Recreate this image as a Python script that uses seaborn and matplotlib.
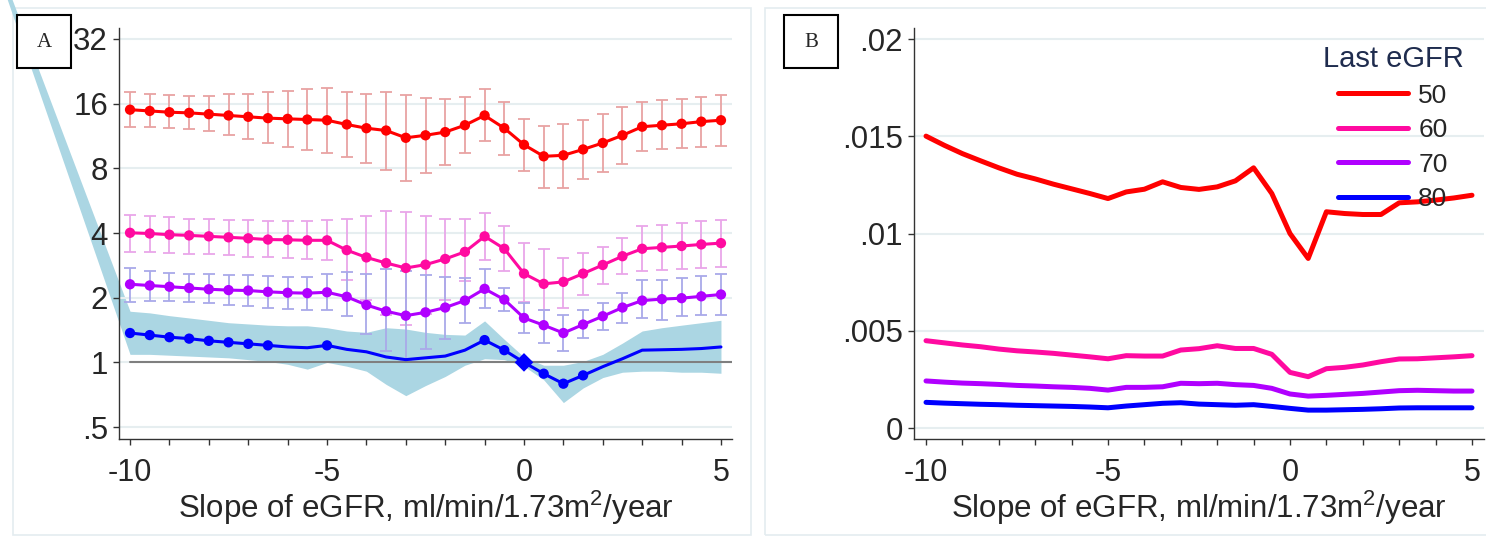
import numpy as np
import pandas as pd
import matplotlib
matplotlib.use("Agg")
import matplotlib.pyplot as plt
import seaborn as sns
from matplotlib.lines import Line2D
from matplotlib.patches import Rectangle
from matplotlib.ticker import FixedLocator, MultipleLocator, NullLocator

# slopes of eGFR (x axis, both panels)
slope = [-10, -9.5, -9, -8.5, -8, -7.5, -7, -6.5, -6, -5.5, -5, -4.5, -4, -3.5, -3,
         -2.5, -2, -1.5, -1, -0.5, 0, 0.5, 1, 1.5, 2, 2.5, 3, 3.5, 4, 4.5, 5]
egfr_levels = ["50", "60", "70", "80"]

# Panel A: hazard ratio (log2 axis) with 95% CI
hr50 = [15.0, 14.8, 14.6, 14.5, 14.3, 14.1, 13.9, 13.7, 13.6, 13.5, 13.4, 12.8, 12.3, 12.0, 11.1,
        11.4, 11.8, 12.7, 14.1, 12.3, 10.3, 9.1, 9.2, 9.8, 10.5, 11.4, 12.5, 12.7, 12.9, 13.2, 13.4]
hr50_hi = [18.1, 17.8, 17.6, 17.4, 17.4, 17.7, 17.8, 18.1, 18.4, 18.7, 18.9, 18.1, 17.7, 18.2, 17.5,
           17.0, 16.9, 17.2, 18.7, 16.3, 13.6, 12.6, 12.9, 13.5, 14.4, 15.4, 16.3, 16.6, 16.9, 17.2, 17.5]
hr50_lo = [12.4, 12.4, 12.3, 12.2, 11.9, 11.4, 10.9, 10.5, 10.1, 9.7, 9.4, 9.0, 8.5, 7.9, 7.0,
           7.6, 8.3, 9.4, 10.7, 9.2, 7.8, 6.5, 6.5, 7.1, 7.7, 8.4, 9.6, 9.8, 9.9, 10.1, 10.2]

hr60 = [4.01, 3.98, 3.93, 3.90, 3.86, 3.82, 3.78, 3.73, 3.72, 3.70, 3.70, 3.33, 3.08, 2.90, 2.75,
        2.85, 3.03, 3.27, 3.86, 3.38, 2.59, 2.32, 2.37, 2.59, 2.84, 3.12, 3.38, 3.43, 3.48, 3.54, 3.59]
hr60_hi = [4.83, 4.78, 4.73, 4.66, 4.63, 4.59, 4.58, 4.56, 4.56, 4.56, 4.59, 4.66, 4.80, 5.04, 5.00,
           4.80, 4.66, 4.63, 4.97, 4.31, 3.58, 3.36, 3.06, 3.24, 3.44, 3.79, 4.29, 4.36, 4.45, 4.53, 4.59]
hr60_lo = [3.27, 3.26, 3.24, 3.21, 3.18, 3.15, 3.11, 3.08, 3.06, 3.03, 3.01, 2.42, 1.96, 1.66, 1.50,
           1.68, 1.96, 2.40, 3.01, 2.66, 1.90, 1.75, 1.80, 2.07, 2.31, 2.57, 2.65, 2.68, 2.71, 2.74, 2.78]

hr70 = [2.31, 2.28, 2.25, 2.22, 2.19, 2.17, 2.16, 2.13, 2.11, 2.10, 2.12, 2.02, 1.85, 1.73, 1.65,
        1.71, 1.80, 1.94, 2.20, 1.96, 1.61, 1.49, 1.37, 1.50, 1.64, 1.80, 1.94, 1.97, 1.99, 2.03, 2.07]
hr70_hi = [2.76, 2.66, 2.61, 2.59, 2.57, 2.55, 2.54, 2.52, 2.50, 2.50, 2.57, 2.64, 2.57, 2.71, 2.65,
           2.54, 2.51, 2.46, 2.71, 2.23, 1.89, 1.76, 1.67, 1.76, 1.89, 2.11, 2.43, 2.43, 2.48, 2.52, 2.57]
hr70_lo = [1.92, 1.93, 1.93, 1.91, 1.88, 1.84, 1.83, 1.80, 1.78, 1.75, 1.75, 1.64, 1.35, 1.13, 1.03,
           1.15, 1.29, 1.53, 1.80, 1.73, 1.37, 1.23, 1.13, 1.30, 1.42, 1.53, 1.61, 1.58, 1.64, 1.67, 1.67]

hr80 = [1.37, 1.34, 1.31, 1.29, 1.26, 1.24, 1.22, 1.20, 1.18, 1.17, 1.20, 1.15, 1.12, 1.06, 1.03,
        1.05, 1.07, 1.14, 1.27, 1.14, 1.00, 0.886, 0.796, 0.870, 0.955, 1.04, 1.14, 1.145, 1.15, 1.16, 1.18]
hr80_hi = [1.73, 1.70, 1.65, 1.61, 1.57, 1.53, 1.51, 1.49, 1.48, 1.48, 1.45, 1.40, 1.38, 1.45, 1.43,
           1.38, 1.35, 1.34, 1.56, 1.28, 1.06, 0.97, 0.97, 1.01, 1.09, 1.23, 1.40, 1.45, 1.49, 1.53, 1.57]
hr80_lo = [1.09, 1.09, 1.08, 1.07, 1.06, 1.05, 1.03, 1.01, 0.98, 0.93, 1.00, 0.96, 0.91, 0.79, 0.70,
           0.78, 0.86, 0.97, 1.04, 1.03, 0.96, 0.83, 0.65, 0.76, 0.85, 0.90, 0.91, 0.91, 0.90, 0.90, 0.89]
# the CI band runs off the plot to the upper left (unclipped, as in the original)
band_tail_slope = -13.5
band_tail_lo = 78.0
band_tail_hi = 86.0
hr80_marked = [-10, -9.5, -9, -8.5, -8, -7.5, -7, -6.5, -5, -1, -0.5, 0.5, 1, 1.5]
ref_slope = 0

# Panel B: predicted probability
prob50 = [0.01501, 0.01454, 0.01411, 0.01374, 0.01338, 0.01305, 0.01281, 0.01254, 0.01230, 0.01206,
          0.01180, 0.01214, 0.01228, 0.01266, 0.01237, 0.01227, 0.01240, 0.01271, 0.01338, 0.01206,
          0.01000, 0.00872, 0.01112, 0.01103, 0.01098, 0.01098, 0.01158, 0.01163, 0.01172, 0.01183, 0.01197]
prob60 = [0.00449, 0.00438, 0.00427, 0.00418, 0.00406, 0.00397, 0.00391, 0.00384, 0.00375, 0.00366,
          0.00356, 0.00372, 0.00370, 0.00370, 0.00401, 0.00408, 0.00423, 0.00409, 0.00409, 0.00379,
          0.00286, 0.00264, 0.00305, 0.00312, 0.00324, 0.00341, 0.00355, 0.00356, 0.00361, 0.00366, 0.00372]
prob70 = [0.00242, 0.00236, 0.00231, 0.00228, 0.00224, 0.00219, 0.00216, 0.00212, 0.00209, 0.00204,
          0.00195, 0.00209, 0.00209, 0.00212, 0.00230, 0.00228, 0.00230, 0.00223, 0.00219, 0.00204,
          0.00175, 0.00164, 0.00168, 0.00173, 0.00178, 0.00185, 0.00192, 0.00194, 0.00192, 0.00190, 0.00190]
prob80 = [0.00132, 0.00128, 0.00125, 0.00122, 0.00120, 0.00117, 0.00115, 0.00113, 0.00111, 0.00108,
          0.00104, 0.00113, 0.00120, 0.00127, 0.00130, 0.00123, 0.00120, 0.00117, 0.00120, 0.00111,
          0.00101, 0.00092, 0.00092, 0.00094, 0.00096, 0.00099, 0.00103, 0.00104, 0.00104, 0.00104, 0.00104]

hr_yticks = [0.5, 1, 2, 4, 8, 16, 32]
hr_yticklabels = [".5", "1", "2", "4", "8", "16", "32"]
prob_yticks = [0, 0.005, 0.01, 0.015, 0.02]
prob_yticklabels = ["0", ".005", ".01", ".015", ".02"]
xticks = [-10, -5, 0, 5]
xticklabels = ["-10", "-5", "0", "5"]
xlabel = r"Slope of eGFR, ml/min/1.73m$^2$/year"

line_colors = ["#ff0000", "#ff0aa0", "#b000ff", "#0000ff"]
bar_colors = ["#e8a3a3", "#e9a6e9", "#a9a9e9"]
band_color = "#abd6e3"
frame_color = "#e4ecf0"

sns.set_style("white")
plt.rcParams["font.family"] = ["Liberation Sans", "DejaVu Sans"]
plt.rcParams["mathtext.fontset"] = "custom"
plt.rcParams["mathtext.rm"] = "Liberation Sans"
plt.rcParams["mathtext.it"] = "Liberation Sans"

n = len(slope)
hr_df = pd.DataFrame({"slope": slope * 4, "hr": hr50 + hr60 + hr70 + hr80,
                      "egfr": np.repeat(egfr_levels, n)})
prob_df = pd.DataFrame({"slope": slope * 4, "prob": prob50 + prob60 + prob70 + prob80,
                        "egfr": np.repeat(egfr_levels, n)})

W, H = 1486, 542
fig = plt.figure(figsize=(W / 100, H / 100), dpi=100)

# light panel frames
fig.add_artist(Rectangle((13 / W, 1 - 535 / H), (751 - 13) / W, (535 - 8) / H, transform=fig.transFigure,
                         fill=False, edgecolor=frame_color, lw=1.2, zorder=0))
fig.add_artist(Rectangle((765 / W, 1 - 535 / H), (1490 - 765) / W, (535 - 8) / H, transform=fig.transFigure,
                         fill=False, edgecolor=frame_color, lw=1.2, zorder=0))

axA = fig.add_axes([119 / W, 1 - 439 / H, (732 - 119) / W, (439 - 28) / H])
axB = fig.add_axes([914 / W, 1 - 439 / H, (1484 - 914) / W, (439 - 28) / H])
for ax in (axA, axB):
    ax.set_facecolor("none")

# ---- Panel A
axA.set_yscale("log", base=2)
axA.fill_between([band_tail_slope] + slope, [band_tail_lo] + hr80_lo, [band_tail_hi] + hr80_hi,
                 color=band_color, lw=0, clip_on=False, zorder=0.8)
axA.axhline(1, xmin=0.018, color="#7f7f7f", lw=1.5, zorder=2)

for hr, lo, hi, c in [(hr50, hr50_lo, hr50_hi, bar_colors[0]),
                      (hr60, hr60_lo, hr60_hi, bar_colors[1]),
                      (hr70, hr70_lo, hr70_hi, bar_colors[2])]:
    yerr = [np.subtract(hr, lo), np.subtract(hi, hr)]
    axA.errorbar(slope, hr, yerr=yerr, fmt="none", ecolor=c, elinewidth=1.3,
                 capsize=4.5, capthick=1.3, zorder=3)

sns.lineplot(data=hr_df, x="slope", y="hr", hue="egfr", palette=line_colors, lw=2.2,
             legend=False, ax=axA, zorder=4)
marked = hr_df[(hr_df["egfr"] != "80") | (hr_df["slope"].isin(hr80_marked))]
sns.scatterplot(data=marked, x="slope", y="hr", hue="egfr", palette=line_colors, s=55,
                edgecolor="none", legend=False, ax=axA, zorder=5)
ref = hr_df[(hr_df["egfr"] == "80") & (hr_df["slope"] == ref_slope)]
sns.scatterplot(data=ref, x="slope", y="hr", color=line_colors[3], marker="D", s=90,
                edgecolor="none", legend=False, ax=axA, zorder=6)

axA.set_xlim(-10.28, 5.28)
axA.set_ylim(0.44, 36.0)
axA.yaxis.set_major_locator(FixedLocator(hr_yticks))
axA.yaxis.set_minor_locator(NullLocator())
axA.set_yticklabels(hr_yticklabels)

# ---- Panel B
sns.lineplot(data=prob_df, x="slope", y="prob", hue="egfr", palette=line_colors, lw=3.6,
             legend=False, ax=axB, zorder=4)
axB.set_xlim(-10.33, 5.33)
axB.set_ylim(-0.000565, 0.02057)
axB.set_yticks(prob_yticks)
axB.set_yticklabels(prob_yticklabels)

handles = [Line2D([], [], color=c, lw=3.6) for c in line_colors]
leg = axB.legend(handles, egfr_levels, title="Last eGFR", loc="upper center",
                 bbox_to_anchor=(1393 / W, 1 - 45 / H), bbox_transform=fig.transFigure,
                 frameon=False, fontsize=19, title_fontsize=21, borderpad=0, borderaxespad=0,
                 handlelength=2.65, handletextpad=0.38, labelspacing=0.4)
leg.get_title().set_color("#1f2c4e")

for ax in (axA, axB):
    ax.set_xticks(xticks)
    ax.set_xticklabels(xticklabels)
    ax.xaxis.set_minor_locator(MultipleLocator(1))
    ax.grid(axis="y", color="#e6eef0", lw=1.5)
    ax.grid(axis="x", visible=False)
    ax.set_axisbelow("line")
    for s in ("top", "right"):
        ax.spines[s].set_visible(False)
    for s in ("left", "bottom"):
        ax.spines[s].set_color("#333333")
        ax.spines[s].set_linewidth(1.0)
    ax.tick_params(axis="both", which="both", direction="out", length=4.5, width=1.0,
                   color="#333333", left=True, bottom=True)
    ax.tick_params(axis="y", pad=3.5, labelsize=22.5)
    ax.tick_params(axis="x", pad=9, labelsize=22)
    ax.set_ylabel("")
    ax.set_xlabel(xlabel, fontsize=22.5, labelpad=1)

# panel letters
for x0, letter in ((17, "A"), (784, "B")):
    fig.add_artist(Rectangle((x0 / W, 1 - 68 / H), 54 / W, 53 / H, transform=fig.transFigure,
                             facecolor="white", edgecolor="black", lw=1.5, zorder=10))
    fig.text((x0 + 27) / W, 1 - 42 / H, letter, ha="center", va="center", fontsize=15,
             family=["Liberation Serif", "DejaVu Serif"], zorder=11)

fig.savefig("out.png", dpi=100)
